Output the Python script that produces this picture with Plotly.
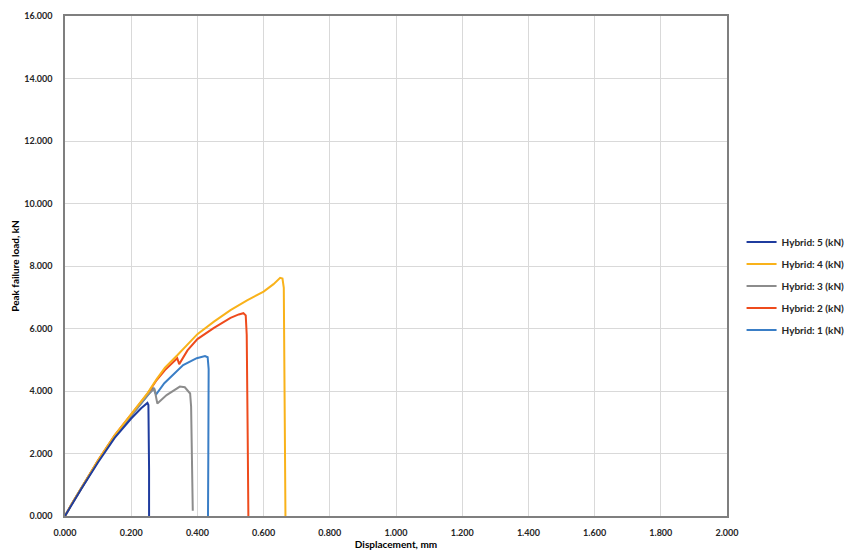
import plotly.graph_objects as go

# Hybrid 1 (kN)
x1 = [0, 0.02, 0.05, 0.1, 0.15, 0.2, 0.25, 0.268, 0.272, 0.276, 0.3, 0.32, 0.357, 0.398, 0.423, 0.431, 0.434, 0.433, 0.432]
y1 = [0, 0.38, 0.9, 1.76, 2.55, 3.2, 3.85, 4.1, 3.95, 3.9, 4.25, 4.46, 4.83, 5.05, 5.12, 5.08, 4.7, 2.0, 0]
# Hybrid 2 (kN)
x2 = [0, 0.02, 0.05, 0.1, 0.15, 0.2, 0.25, 0.277, 0.302, 0.339, 0.345, 0.37, 0.4, 0.45, 0.5, 0.525, 0.539, 0.546, 0.549, 0.552, 0.554]
y2 = [0, 0.38, 0.9, 1.78, 2.58, 3.25, 3.92, 4.35, 4.67, 5.05, 4.86, 5.3, 5.66, 6.02, 6.34, 6.45, 6.49, 6.42, 5.8, 2.5, 0]
# Hybrid 3 (kN)
x3 = [0, 0.02, 0.05, 0.1, 0.15, 0.2, 0.25, 0.27, 0.279, 0.307, 0.33, 0.347, 0.362, 0.372, 0.378, 0.381, 0.384, 0.386]
y3 = [0, 0.38, 0.9, 1.77, 2.56, 3.22, 3.88, 4.08, 3.6, 3.87, 4.02, 4.14, 4.12, 4.0, 3.92, 3.5, 1.5, 0.17]
# Hybrid 4 (kN)
x4 = [0, 0.02, 0.05, 0.1, 0.15, 0.2, 0.25, 0.277, 0.302, 0.34, 0.37, 0.4, 0.45, 0.5, 0.55, 0.6, 0.63, 0.65, 0.657, 0.661, 0.664, 0.666]
y4 = [0, 0.38, 0.9, 1.78, 2.58, 3.26, 3.94, 4.38, 4.75, 5.15, 5.5, 5.82, 6.22, 6.59, 6.9, 7.18, 7.42, 7.62, 7.6, 7.3, 3.0, 0]
# Hybrid 5 (kN)
x5 = [0, 0.02, 0.05, 0.1, 0.15, 0.2, 0.23, 0.249, 0.252, 0.254, 0.254]
y5 = [0, 0.36, 0.88, 1.72, 2.5, 3.12, 3.45, 3.62, 3.55, 1.5, 0]

names = ["Hybrid: 1 (kN)", "Hybrid: 2 (kN)", "Hybrid: 3 (kN)", "Hybrid: 4 (kN)", "Hybrid: 5 (kN)"]
colors = ["#3A7EC6", "#EE4B1C", "#8C8C8C", "#F9B21A", "#1F3C9E"]
ranks = [5, 4, 3, 2, 1]
xs = [x1, x2, x3, x4, x5]
ys = [y1, y2, y3, y4, y5]

x_ticks = [0, 0.2, 0.4, 0.6, 0.8, 1.0, 1.2, 1.4, 1.6, 1.8, 2.0]
y_ticks = [0, 2, 4, 6, 8, 10, 12, 14, 16]

FONT = "Lato, Arial, sans-serif"

fig = go.Figure()
for x, y, n, c, r in zip(xs, ys, names, colors, ranks):
    fig.add_trace(go.Scatter(x=x, y=y, name=n, mode="lines", legendgroup=n, legendrank=r,
                             line=dict(color=c, width=2)))

fig.update_layout(
    width=851, height=557,
    margin=dict(l=65, r=124, t=16, b=41, autoexpand=False),
    paper_bgcolor="white", plot_bgcolor="white",
    font=dict(family=FONT, size=9, color="#262626"),
    legend=dict(traceorder="grouped", x=1.022, xanchor="left", y=0.46, yanchor="middle",
                font=dict(family=FONT, size=10, color="#262626", weight="bold"),
                itemwidth=30, tracegroupgap=3, bgcolor="rgba(0,0,0,0)"),
    xaxis=dict(range=[0, 2.0], tickvals=x_ticks, tickformat=".3f",
               showgrid=True, gridcolor="#D9D9D9", gridwidth=1,
               showline=True, linecolor="#7F7F7F", linewidth=1.5, mirror=True,
               zeroline=False, ticks="", ticklabelstandoff=7,
               tickfont=dict(family=FONT, size=9, color="#262626", weight="bold"),
               title=dict(text="<b>Displacement, mm</b>", standoff=4,
                          font=dict(family=FONT, size=10, color="#000000"))),
    yaxis=dict(range=[0, 16], tickvals=y_ticks, tickformat=".3f",
               showgrid=True, gridcolor="#D9D9D9", gridwidth=1,
               showline=True, linecolor="#7F7F7F", linewidth=1.5, mirror=True,
               zeroline=False, ticks="", ticklabelstandoff=9,
               tickfont=dict(family=FONT, size=9, color="#262626", weight="bold"),
               title=dict(text="<b>Peak failure load, kN</b>", standoff=3,
                          font=dict(family=FONT, size=10, color="#000000"))),
    showlegend=True,
)

fig.write_html("out.html")
